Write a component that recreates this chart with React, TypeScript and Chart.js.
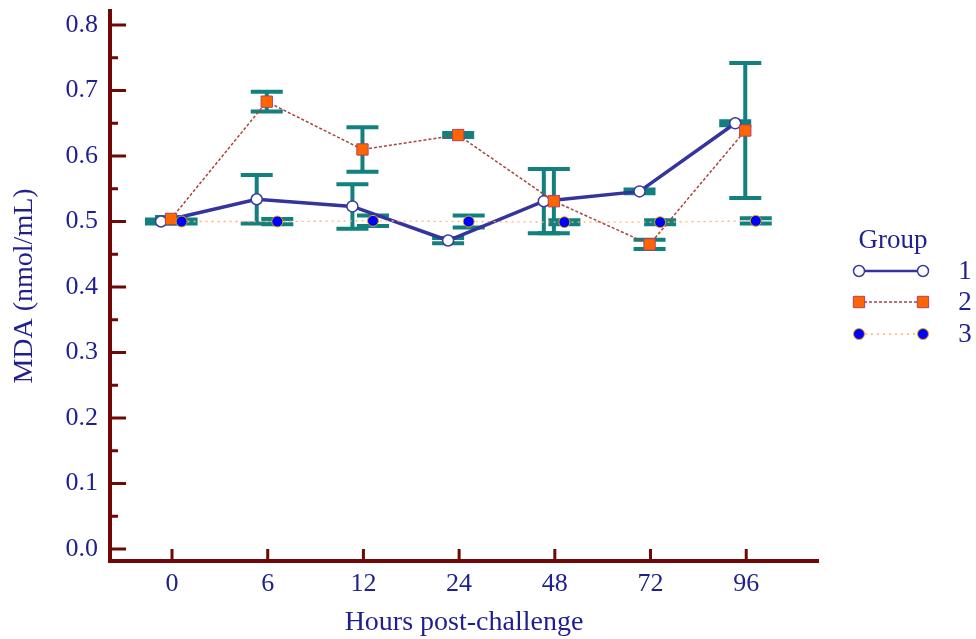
import React, { useEffect, useRef } from 'react';
import { Chart, registerables } from 'chart.js';

Chart.register(...registerables);

// ---- data ----
const categories = ['0', '6', '12', '24', '48', '72', '96'];
const yTickValues = [0, 0.1, 0.2, 0.3, 0.4, 0.5, 0.6, 0.7, 0.8];
const groupNames = ['1', '2', '3'];

const group1 = [0.5, 0.534, 0.523, 0.471, 0.531, 0.546, 0.65];
const group1Err = [0.003, 0.037, 0.034, 0.004, 0.049, 0.003, 0.003];

const group2 = [0.504, 0.683, 0.61, 0.632, 0.531, 0.465, 0.639];
const group2Err = [0.003, 0.015, 0.034, 0.003, 0.049, 0.007, 0.103];

const group3 = [0.5, 0.5, 0.501, 0.5, 0.499, 0.499, 0.501];
const group3Err = [0.003, 0.004, 0.008, 0.009, 0.003, 0.003, 0.004];

// ---- styles ----
const TEXT = '#1f1f8f';
const AXIS = '#700808';
const ERR = '#11807e';
const FONT = "'Liberation Serif', 'Times New Roman', serif";
const offsets = [-0.115, -0.01, 0.1];
const errs = [group1Err, group2Err, group3Err];

const styles = [
  { line: '#34349c', width: 3.5, dash: [] as number[], shape: 'circle', fill: '#ffffff', stroke: '#3a3aa0', r: 5.5, lw: 1.5 },
  { line: '#a8443c', width: 1.5, dash: [3, 2], shape: 'rect', fill: '#ff6600', stroke: '#b04068', r: 8, lw: 1 },
  { line: '#ffb070', width: 1.3, dash: [2, 4], shape: 'circle', fill: '#0000ff', stroke: '#e0b000', r: 5.5, lw: 1 },
];

function pts(vals: number[], k: number) {
  return vals.map((v, i) => ({ x: i + offsets[k], y: v }));
}

const errorBarPlugin = {
  id: 'errorBars',
  beforeDatasetsDraw(chart: any) {
    const ctx = chart.ctx;
    const xs = chart.scales.x;
    const ys = chart.scales.y;
    ctx.save();
    ctx.strokeStyle = ERR;
    ctx.lineCap = 'butt';
    const series = [group1, group2, group3];
    series.forEach((vals, k) => {
      vals.forEach((v, i) => {
        const e = errs[k][i];
        const x = xs.getPixelForValue(i + offsets[k]);
        const yt = ys.getPixelForValue(v + e);
        const yb = ys.getPixelForValue(v - e);
        ctx.lineWidth = 4;
        ctx.beginPath();
        ctx.moveTo(x, yt);
        ctx.lineTo(x, yb);
        ctx.stroke();
        ctx.beginPath();
        ctx.moveTo(x - 16, yt);
        ctx.lineTo(x + 16, yt);
        ctx.moveTo(x - 16, yb);
        ctx.lineTo(x + 16, yb);
        ctx.stroke();
      });
    });
    ctx.restore();
  },
};

const tickPlugin = {
  id: 'innerTicks',
  afterDraw(chart: any) {
    const ctx = chart.ctx;
    const xs = chart.scales.x;
    const ys = chart.scales.y;
    const left = chart.chartArea.left;
    const bottom = chart.chartArea.bottom;
    ctx.save();
    ctx.strokeStyle = AXIS;
    ctx.lineWidth = 3;
    ctx.beginPath();
    for (let i = 0; i < yTickValues.length; i++) {
      const y = ys.getPixelForValue(yTickValues[i]);
      ctx.moveTo(left, y);
      ctx.lineTo(left + 16, y);
      if (i < yTickValues.length - 1) {
        const ym = ys.getPixelForValue((yTickValues[i] + yTickValues[i + 1]) / 2);
        ctx.moveTo(left, ym);
        ctx.lineTo(left + 8, ym);
      }
    }
    categories.forEach((_, i) => {
      const x = xs.getPixelForValue(i);
      ctx.moveTo(x, bottom);
      ctx.lineTo(x, bottom - 12);
    });
    ctx.stroke();
    ctx.restore();
  },
};

function drawMarker(ctx: CanvasRenderingContext2D, s: any, x: number, y: number) {
  ctx.save();
  ctx.setLineDash([]);
  ctx.fillStyle = s.fill;
  ctx.strokeStyle = s.stroke;
  ctx.lineWidth = s.lw;
  ctx.beginPath();
  if (s.shape === 'rect') {
    const h = s.r * Math.SQRT1_2;
    ctx.rect(x - h, y - h, 2 * h, 2 * h);
  } else {
    ctx.arc(x, y, s.r, 0, Math.PI * 2);
  }
  ctx.fill();
  ctx.stroke();
  ctx.restore();
}

const legendPlugin = {
  id: 'groupLegend',
  afterDraw(chart: any) {
    const ctx = chart.ctx;
    ctx.save();
    ctx.fillStyle = TEXT;
    ctx.font = `27px ${FONT}`;
    ctx.textAlign = 'center';
    ctx.textBaseline = 'middle';
    ctx.fillText('Group', 893, 241);
    const rows = [271, 302, 334];
    const lw = [2.5, 1.5, 1.5];
    groupNames.forEach((name, k) => {
      const s = styles[k];
      const y = rows[k];
      ctx.save();
      ctx.strokeStyle = s.line;
      ctx.lineWidth = lw[k];
      ctx.setLineDash(s.dash);
      ctx.beginPath();
      ctx.moveTo(859, y);
      ctx.lineTo(923, y);
      ctx.stroke();
      ctx.restore();
      drawMarker(ctx, s, 859, y);
      drawMarker(ctx, s, 923, y);
      ctx.fillStyle = TEXT;
      ctx.font = `27px ${FONT}`;
      ctx.fillText(name, 965, y + 1);
    });
    ctx.restore();
  },
};

export default function App() {
  const ref = useRef<HTMLCanvasElement>(null);
  useEffect(() => {
    const series = [group1, group2, group3];
    const chart = new Chart(ref.current as HTMLCanvasElement, {
      type: 'line',
      data: {
        datasets: series.map((vals, k) => ({
          label: groupNames[k],
          data: pts(vals, k),
          borderColor: styles[k].line,
          borderWidth: styles[k].width,
          borderDash: styles[k].dash,
          backgroundColor: styles[k].fill,
          pointStyle: styles[k].shape as any,
          pointRadius: styles[k].r,
          pointBackgroundColor: styles[k].fill,
          pointBorderColor: styles[k].stroke,
          pointBorderWidth: styles[k].lw,
          tension: 0,
          fill: false,
          order: 3 - k,
        })),
      },
      options: {
        responsive: false,
        animation: false,
        devicePixelRatio: 1,
        layout: { padding: { left: 0, top: 11, right: 158, bottom: 0 } },
        plugins: { legend: { display: false }, tooltip: { enabled: false } },
        scales: {
          x: {
            type: 'linear',
            min: -0.648,
            max: 6.75,
            grid: { display: false, drawTicks: false },
            border: { display: true, color: AXIS, width: 4 },
            afterBuildTicks: (scale: any) => {
              scale.ticks = categories.map((_, i) => ({ value: i }));
            },
            afterFit: (scale: any) => {
              scale.height = 78;
              scale.paddingLeft = 0;
              scale.paddingRight = 0;
            },
            ticks: {
              color: TEXT,
              font: { family: FONT, size: 26 },
              padding: 8,
              maxRotation: 0,
              autoSkip: false,
              callback: (v: any) => categories[Math.round(Number(v))] ?? '',
            },
            title: {
              display: true,
              text: 'Hours post-challenge',
              color: TEXT,
              font: { family: FONT, size: 28 },
              padding: { top: 0, bottom: 0 },
            },
          },
          y: {
            type: 'linear',
            min: -0.0183,
            max: 0.8214,
            grid: { display: false, drawTicks: false },
            border: { display: true, color: AXIS, width: 4 },
            afterBuildTicks: (scale: any) => {
              scale.ticks = yTickValues.map((v) => ({ value: v }));
            },
            afterFit: (scale: any) => {
              scale.width = 110;
              scale.paddingTop = 0;
              scale.paddingBottom = 0;
            },
            ticks: {
              color: TEXT,
              font: { family: FONT, size: 26 },
              padding: 12,
              callback: (v: any) => Number(v).toFixed(1),
            },
            title: {
              display: true,
              text: 'MDA (nmol/mL)',
              color: TEXT,
              font: { family: FONT, size: 28 },
              padding: { top: 8, bottom: 0 },
            },
          },
        },
      },
      plugins: [errorBarPlugin, tickPlugin, legendPlugin],
    });
    return () => chart.destroy();
  }, []);
  return (
    <div style={{ position: 'absolute', left: 0, top: 0, width: 976, height: 639, background: '#ffffff' }}>
      <canvas ref={ref} width={976} height={639} style={{ display: 'block', width: 976, height: 639 }} />
    </div>
  );
}
